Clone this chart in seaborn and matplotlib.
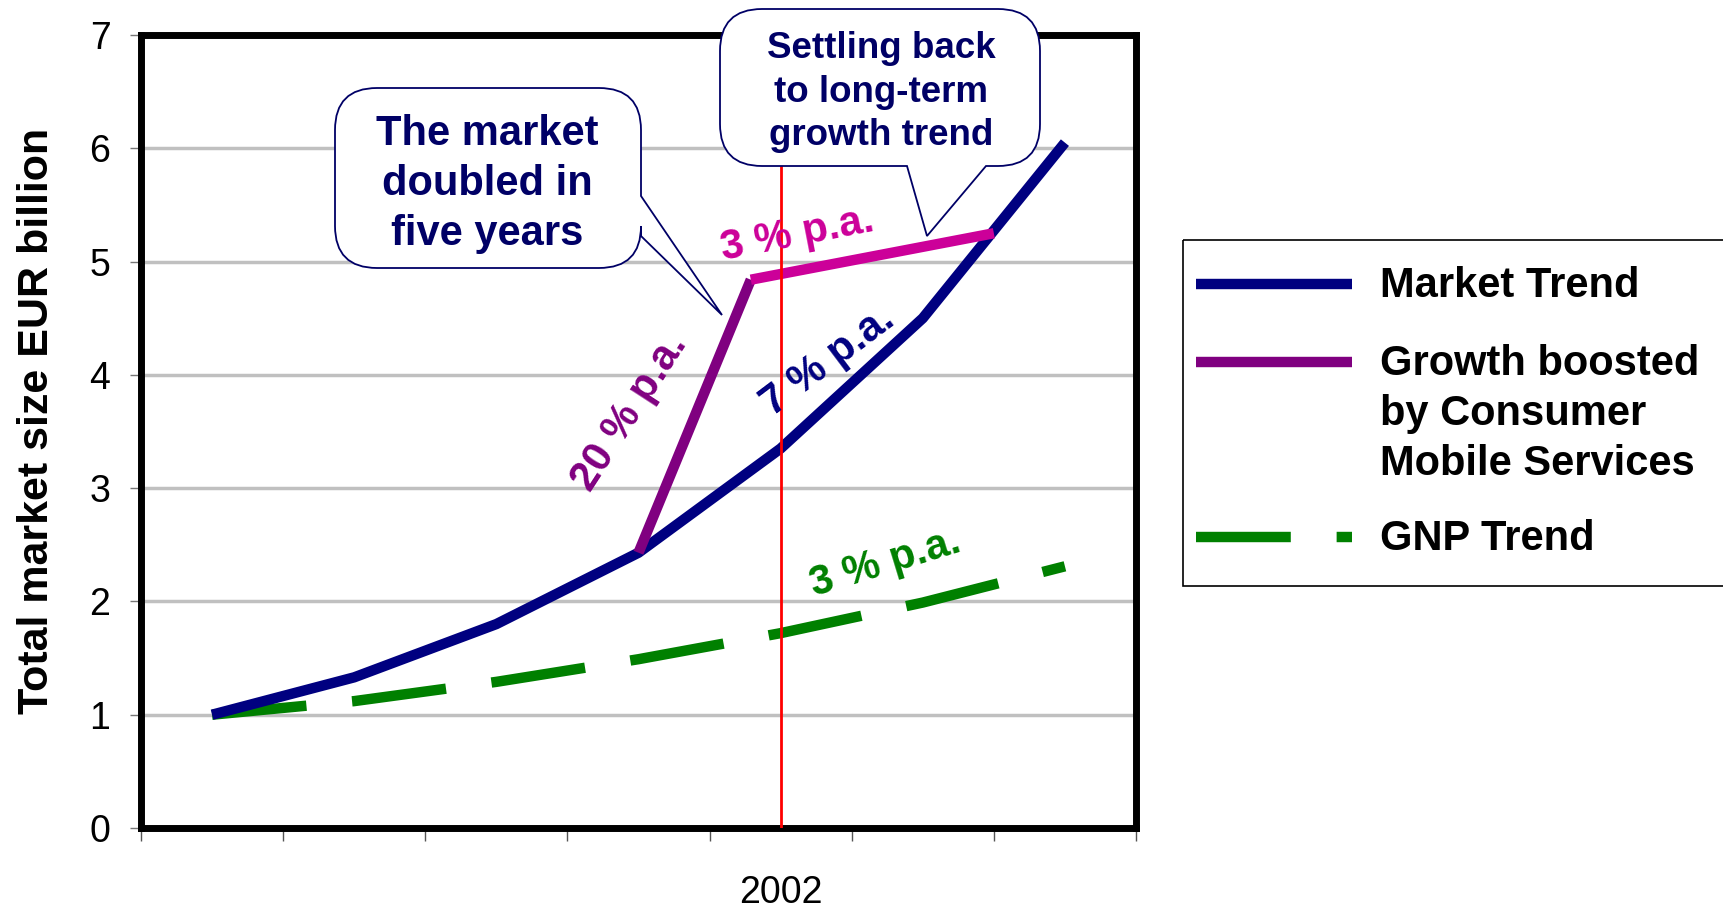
import numpy as np
import pandas as pd
import matplotlib
matplotlib.use('Agg')
import matplotlib.pyplot as plt
import seaborn as sns
from matplotlib.path import Path
from matplotlib.patches import PathPatch, Rectangle
import matplotlib.transforms as mtransforms

# ---------------- data ----------------
categories = ['', '', '', '', '2002', '', '']
market_trend = [1.00, 1.33, 1.80, 2.43, 3.35, 4.50, 6.05]
gnp_trend = [1.00, 1.12, 1.29, 1.49, 1.72, 1.99, 2.31]
boost_x = [3.0, 3.79]
boost_y = [2.43, 4.84]
settle_x = [3.79, 5.5]
settle_y = [4.84, 5.25]
y_ticks = [0, 1, 2, 3, 4, 5, 6, 7]
marker_index = 4

NAVY = '#000080'
PURPLE = '#800080'
PINK = '#CC0099'
GREEN = '#008000'
TEXT_NAVY = '#000066'

sns.set_theme(style='white')
plt.rcParams['font.family'] = ['Liberation Sans', 'DejaVu Sans']
plt.rcParams['text.color'] = 'black'
plt.rcParams['axes.labelcolor'] = 'black'
plt.rcParams['xtick.labelcolor'] = 'black'
plt.rcParams['ytick.labelcolor'] = 'black'

W, H = 1724, 910
fig = plt.figure(figsize=(W / 100, H / 100), dpi=100)
ax = fig.add_axes([141 / W, 1 - 828 / H, 995 / W, 793 / H])
# pixel transform (x right, y down from top-left of figure)
PX = mtransforms.Affine2D().scale(1 / W, -1 / H).translate(0, 1) + fig.transFigure

xs = list(range(len(categories)))
df_market = pd.DataFrame({'x': xs, 'y': market_trend})
df_gnp = pd.DataFrame({'x': xs, 'y': gnp_trend})
df_boost = pd.DataFrame({'x': boost_x, 'y': boost_y})
df_settle = pd.DataFrame({'x': settle_x, 'y': settle_y})

LW = 7.5
sns.lineplot(data=df_gnp, x='x', y='y', ax=ax, color=GREEN, lw=LW,
             linestyle=(0, (9.1, 4.4)), dash_capstyle='butt', label='GNP Trend',
             legend=False, zorder=3)
sns.lineplot(data=df_market, x='x', y='y', ax=ax, color=NAVY, lw=LW,
             solid_capstyle='butt', label='Market Trend', legend=False, zorder=4)
sns.lineplot(data=df_boost, x='x', y='y', ax=ax, color=PURPLE, lw=LW,
             solid_capstyle='butt', label='Growth boosted\nby Consumer\nMobile Services',
             legend=False, zorder=5)
sns.lineplot(data=df_settle, x='x', y='y', ax=ax, color=PINK, lw=LW,
             solid_capstyle='butt', legend=False, zorder=5)

ax.axvline(marker_index, color='#FF0000', lw=2, zorder=6)

ax.set_xlim(-0.5, len(categories) - 0.5)
ax.set_ylim(0, 7)
ax.set_yticks(y_ticks)
ax.set_yticklabels([str(v) for v in y_ticks])
ax.yaxis.grid(True, color='#C0C0C0', lw=2.5)
ax.set_axisbelow(True)
ax.set_xticks(xs)
ax.set_xticklabels(categories)
ax.set_xticks(np.arange(-0.5, len(categories)), minor=True)
ax.tick_params(axis='x', which='major', length=0, pad=34, labelsize=27, labelcolor='black')
ax.tick_params(axis='x', which='minor', length=9, width=1, color='#555555', bottom=True)
ax.tick_params(axis='y', length=8, width=1, color='#777777', left=True, pad=14, labelsize=27,
               labelcolor='black')
for s in ax.spines.values():
    s.set_visible(True)
    s.set_color('black')
    s.set_linewidth(5)
ax.set_xlabel('')
ax.set_ylabel('Total market size EUR billion', fontsize=31, fontweight='bold', color='black')
ax.yaxis.set_label_coords(-0.084, 0.513)

# rate labels
ax.text(2.94, 3.67, '20 % p.a.', color=PURPLE, fontsize=30, fontweight='bold',
        rotation=57, ha='center', va='center', rotation_mode='anchor', zorder=7)
ax.text(4.33, 4.12, '7 % p.a.', color=NAVY, fontsize=30, fontweight='bold',
        rotation=37, ha='center', va='center', rotation_mode='anchor', zorder=7)
ax.text(4.12, 5.24, '3 % p.a.', color=PINK, fontsize=30, fontweight='bold',
        rotation=11, ha='center', va='center', rotation_mode='anchor', zorder=7)
ax.text(4.74, 2.34, '3 % p.a.', color=GREEN, fontsize=30, fontweight='bold',
        rotation=17, ha='center', va='center', rotation_mode='anchor', zorder=7)


def callout(x0, y0, x1, y1, r, side, t1, t2, tip):
    v, c = [], []
    def mv(p): v.append(p); c.append(Path.MOVETO)
    def ln(p): v.append(p); c.append(Path.LINETO)
    def cu(p, q): v.extend([p, q]); c.extend([Path.CURVE3, Path.CURVE3])
    mv((x0 + r, y0)); ln((x1 - r, y0)); cu((x1, y0), (x1, y0 + r))
    if side == 'right':
        ln((x1, t1)); ln(tip); ln((x1, t2))
    ln((x1, y1 - r)); cu((x1, y1), (x1 - r, y1))
    if side == 'bottom':
        ln((t2, y1)); ln(tip); ln((t1, y1))
    ln((x0 + r, y1)); cu((x0, y1), (x0, y1 - r))
    ln((x0, y0 + r)); cu((x0, y0), (x0 + r, y0))
    v.append((x0 + r, y0)); c.append(Path.CLOSEPOLY)
    return PathPatch(Path(v, c), transform=PX, facecolor='white',
                     edgecolor=TEXT_NAVY, lw=1.3, zorder=10)

fig.add_artist(callout(335, 88, 641, 268, 42, 'right', 196, 236, (722, 315)))
fig.add_artist(callout(720, 9, 1040, 166, 42, 'bottom', 907, 986, (927, 236)))
fig.text(487 / W, 1 - 184 / H, 'The market\ndoubled in\nfive years', ha='center', va='center',
         fontsize=30, fontweight='bold', color=TEXT_NAVY, linespacing=1.32, zorder=11)
fig.text(881 / W, 1 - 92 / H, 'Settling back\nto long-term\ngrowth trend', ha='center', va='center',
         fontsize=26.5, fontweight='bold', color=TEXT_NAVY, linespacing=1.32, zorder=11)

# legend
fig.add_artist(Rectangle((1183, 240), 600, 346, transform=PX, fill=False,
                         edgecolor='black', lw=1.2, zorder=10))
handles, labels = ax.get_legend_handles_labels()
order = [labels.index('Market Trend'), labels.index('Growth boosted\nby Consumer\nMobile Services'),
         labels.index('GNP Trend')]
leg = fig.legend([handles[i] for i in order], [labels[i] for i in order],
                 loc='upper left', bbox_to_anchor=(1196 / W, 1 - 266 / H),
                 frameon=False, borderpad=0, borderaxespad=0, handlelength=3.74,
                 handleheight=1.2, handletextpad=0.67, labelspacing=0.85,
                 prop={'size': 30, 'weight': 'bold'})
for t in leg.get_texts():
    t.set_linespacing(1.32)
    t.set_color('black')
try:
    for col in leg._legend_handle_box.get_children():
        for row in col.get_children():
            row.align = 'top'
except Exception:
    pass

fig.savefig('out.png', dpi=100)
